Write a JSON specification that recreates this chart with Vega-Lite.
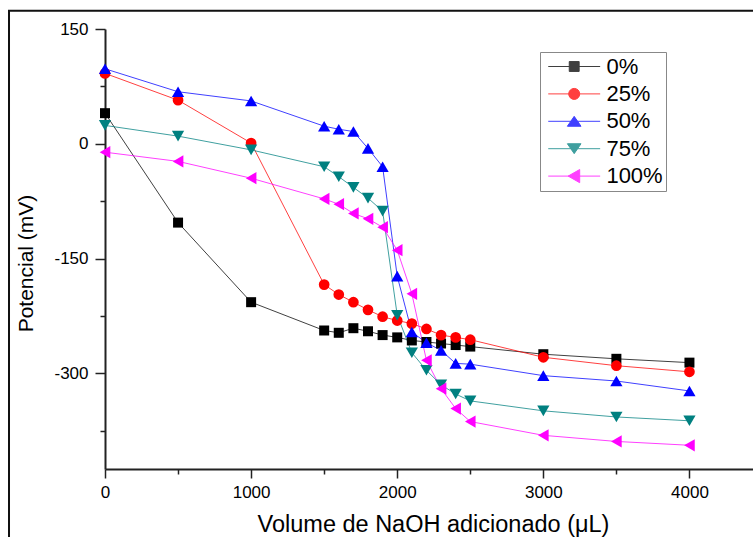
{
  "$schema": "https://vega.github.io/schema/vega-lite/v6.json",
  "width": 648,
  "height": 440,
  "autosize": {"type": "none"},
  "padding": {"left": 105, "top": 29, "right": 0, "bottom": 68},
  "background": "white",
  "config": {
    "view": {"stroke": null},
    "font": "Liberation Sans",
    "axis": {"grid": false, "labelFont": "Liberation Sans", "titleFont": "Liberation Sans"},
    "legend": {"labelFont": "Liberation Sans"}
  },
  "data": {
    "values": [
      {"x": 0, "y": 40, "s": "0%"}, {"x": 500, "y": -103, "s": "0%"}, {"x": 1000, "y": -207, "s": "0%"}, {"x": 1500, "y": -244, "s": "0%"}, {"x": 1600, "y": -247, "s": "0%"}, {"x": 1700, "y": -241, "s": "0%"}, {"x": 1800, "y": -245, "s": "0%"}, {"x": 1900, "y": -250, "s": "0%"}, {"x": 2000, "y": -253, "s": "0%"}, {"x": 2100, "y": -257, "s": "0%"}, {"x": 2200, "y": -259, "s": "0%"}, {"x": 2300, "y": -261, "s": "0%"}, {"x": 2400, "y": -263, "s": "0%"}, {"x": 2500, "y": -265, "s": "0%"}, {"x": 3000, "y": -275, "s": "0%"}, {"x": 3500, "y": -281, "s": "0%"}, {"x": 4000, "y": -286, "s": "0%"},
      {"x": 0, "y": 92, "s": "25%"}, {"x": 500, "y": 57, "s": "25%"}, {"x": 1000, "y": 1, "s": "25%"}, {"x": 1500, "y": -184, "s": "25%"}, {"x": 1600, "y": -197, "s": "25%"}, {"x": 1700, "y": -207, "s": "25%"}, {"x": 1800, "y": -217, "s": "25%"}, {"x": 1900, "y": -226, "s": "25%"}, {"x": 2000, "y": -231, "s": "25%"}, {"x": 2100, "y": -235, "s": "25%"}, {"x": 2200, "y": -242, "s": "25%"}, {"x": 2300, "y": -250, "s": "25%"}, {"x": 2400, "y": -253, "s": "25%"}, {"x": 2500, "y": -256, "s": "25%"}, {"x": 3000, "y": -279, "s": "25%"}, {"x": 3500, "y": -290, "s": "25%"}, {"x": 4000, "y": -298, "s": "25%"},
      {"x": 0, "y": 98, "s": "50%"}, {"x": 500, "y": 68, "s": "50%"}, {"x": 1000, "y": 56, "s": "50%"}, {"x": 1500, "y": 23, "s": "50%"}, {"x": 1600, "y": 19, "s": "50%"}, {"x": 1700, "y": 16, "s": "50%"}, {"x": 1800, "y": -6, "s": "50%"}, {"x": 1900, "y": -30, "s": "50%"}, {"x": 2000, "y": -173, "s": "50%"}, {"x": 2100, "y": -246, "s": "50%"}, {"x": 2200, "y": -260, "s": "50%"}, {"x": 2300, "y": -270, "s": "50%"}, {"x": 2400, "y": -287, "s": "50%"}, {"x": 2500, "y": -288, "s": "50%"}, {"x": 3000, "y": -303, "s": "50%"}, {"x": 3500, "y": -310, "s": "50%"}, {"x": 4000, "y": -323, "s": "50%"},
      {"x": 0, "y": 24, "s": "75%"}, {"x": 500, "y": 10, "s": "75%"}, {"x": 1000, "y": -8, "s": "75%"}, {"x": 1500, "y": -30, "s": "75%"}, {"x": 1600, "y": -43, "s": "75%"}, {"x": 1700, "y": -57, "s": "75%"}, {"x": 1800, "y": -71, "s": "75%"}, {"x": 1900, "y": -88, "s": "75%"}, {"x": 2000, "y": -224, "s": "75%"}, {"x": 2100, "y": -273, "s": "75%"}, {"x": 2200, "y": -296, "s": "75%"}, {"x": 2300, "y": -315, "s": "75%"}, {"x": 2400, "y": -327, "s": "75%"}, {"x": 2500, "y": -336, "s": "75%"}, {"x": 3000, "y": -349, "s": "75%"}, {"x": 3500, "y": -357, "s": "75%"}, {"x": 4000, "y": -362, "s": "75%"},
      {"x": 0, "y": -11, "s": "100%"}, {"x": 500, "y": -23, "s": "100%"}, {"x": 1000, "y": -45, "s": "100%"}, {"x": 1500, "y": -72, "s": "100%"}, {"x": 1600, "y": -79, "s": "100%"}, {"x": 1700, "y": -91, "s": "100%"}, {"x": 1800, "y": -98, "s": "100%"}, {"x": 1900, "y": -109, "s": "100%"}, {"x": 2000, "y": -139, "s": "100%"}, {"x": 2100, "y": -196, "s": "100%"}, {"x": 2200, "y": -283, "s": "100%"}, {"x": 2300, "y": -320, "s": "100%"}, {"x": 2400, "y": -346, "s": "100%"}, {"x": 2500, "y": -363, "s": "100%"}, {"x": 3000, "y": -381, "s": "100%"}, {"x": 3500, "y": -389, "s": "100%"}, {"x": 4000, "y": -394, "s": "100%"}
    ]
  },
  "layer": [
    {
      "data": {"values": [{"k": 1}]},
      "mark": {"type": "rect", "fill": null, "stroke": "#111", "strokeWidth": 2, "clip": false},
      "encoding": {
        "x": {"datum": -657, "type": "quantitative", "scale": {"domain": [0, 4435], "nice": false, "zero": false}, "axis": null},
        "x2": {"datum": 6000},
        "y": {"datum": 174, "type": "quantitative", "scale": {"domain": [-425, 150], "nice": false, "zero": false}, "axis": null},
        "y2": {"datum": -700}
      }
    },
    {
      "mark": {"type": "line", "strokeWidth": 1, "opacity": 0.75},
      "encoding": {
        "x": {
          "field": "x", "type": "quantitative",
          "scale": {"domain": [0, 4435], "nice": false, "zero": false},
          "axis": {
            "orient": "bottom", "values": [0, 1000, 2000, 3000, 4000], "labelExpr": "'' + datum.value",
            "title": "Volume de NaOH adicionado (μL)", "titleFontSize": 23.5, "titleFontWeight": "normal", "titleColor": "#000",
            "titleX": 328, "titleY": 62, "titleBaseline": "alphabetic", "titleAlign": "center",
            "tickSize": 9, "tickWidth": 1.5, "tickColor": "#222", "domainWidth": 2, "domainColor": "#222",
            "labelFontSize": 17, "labelColor": "#000", "labelPadding": 6, "labelFlush": false
          }
        },
        "y": {
          "field": "y", "type": "quantitative",
          "scale": {"domain": [-425, 150], "nice": false, "zero": false},
          "axis": {
            "orient": "left", "values": [150, 0, -150, -300], "labelExpr": "'' + datum.value",
            "title": "Potencial (mV)", "titleFontSize": 21, "titleFontWeight": "normal", "titleColor": "#000",
            "titleX": -79, "titleY": 234, "titleAlign": "center", "titleBaseline": "middle", "titleAngle": -90,
            "tickSize": 10, "tickWidth": 1.5, "tickColor": "#222", "domainWidth": 2, "domainColor": "#222",
            "labelFontSize": 17, "labelColor": "#000", "labelPadding": 7, "labelFlush": false
          }
        },
        "color": {
          "field": "s", "type": "nominal",
          "scale": {"domain": ["0%", "25%", "50%", "75%", "100%"], "range": ["#000000", "#FF0000", "#0000FF", "#008080", "#FF00FF"]},
          "legend": {
            "orient": "none", "legendX": 435, "legendY": 23, "title": null,
            "padding": 3, "rowPadding": 4.4, "strokeColor": "#888", "fillColor": "white",
            "labelFontSize": 22, "labelColor": "#000", "labelOffset": 20.7, "symbolOffset": 19.7,
            "symbolSize": 484, "symbolStrokeWidth": 1,
            "symbolType": {"expr": "datum.value === '0%' ? 'M-2.36,0L2.36,0M-0.45,-0.45L0.45,-0.45L0.45,0.45L-0.45,0.45Z' : datum.value === '25%' ? 'M-2.36,0L2.36,0M-0.5,0A0.5,0.5,0,1,1,0.5,0A0.5,0.5,0,1,1,-0.5,0Z' : datum.value === '50%' ? 'M-2.36,0L2.36,0M0,-0.45L0.62,0.45L-0.62,0.45Z' : datum.value === '75%' ? 'M-2.36,0L2.36,0M0,0.45L0.62,-0.45L-0.62,-0.45Z' : 'M-2.36,0L2.36,0M-0.55,0L0.5,-0.6L0.5,0.6Z'"},
            "symbolFillColor": {"expr": "datum.value === '0%' ? '#000000' : datum.value === '25%' ? '#FF0000' : datum.value === '50%' ? '#0000FF' : datum.value === '75%' ? '#008080' : '#FF00FF'"},
            "symbolStrokeColor": {"expr": "datum.value === '0%' ? '#000000' : datum.value === '25%' ? '#FF0000' : datum.value === '50%' ? '#0000FF' : datum.value === '75%' ? '#008080' : '#FF00FF'"}
          }
        }
      }
    },
    {
      "transform": [{"filter": "datum.s === '0%'"}],
      "mark": {"type": "point", "filled": true, "shape": "square", "color": "#000000", "size": 100, "opacity": 1, "strokeWidth": 0},
      "encoding": {
        "x": {"field": "x", "type": "quantitative", "scale": {"domain": [0, 4435], "nice": false, "zero": false}, "axis": null},
        "y": {"field": "y", "type": "quantitative", "scale": {"domain": [-425, 150], "nice": false, "zero": false}, "axis": null}
      }
    },
    {
      "transform": [{"filter": "datum.s === '25%'"}],
      "mark": {"type": "point", "filled": true, "shape": "circle", "color": "#FF0000", "size": 115, "opacity": 1, "strokeWidth": 0},
      "encoding": {
        "x": {"field": "x", "type": "quantitative", "scale": {"domain": [0, 4435], "nice": false, "zero": false}, "axis": null},
        "y": {"field": "y", "type": "quantitative", "scale": {"domain": [-425, 150], "nice": false, "zero": false}, "axis": null}
      }
    },
    {
      "transform": [{"filter": "datum.s === '50%'"}],
      "mark": {"type": "point", "filled": true, "shape": "triangle-up", "color": "#0000FF", "size": 150, "opacity": 1, "strokeWidth": 0},
      "encoding": {
        "x": {"field": "x", "type": "quantitative", "scale": {"domain": [0, 4435], "nice": false, "zero": false}, "axis": null},
        "y": {"field": "y", "type": "quantitative", "scale": {"domain": [-425, 150], "nice": false, "zero": false}, "axis": null}
      }
    },
    {
      "transform": [{"filter": "datum.s === '75%'"}],
      "mark": {"type": "point", "filled": true, "shape": "triangle-down", "color": "#008080", "size": 150, "opacity": 1, "strokeWidth": 0},
      "encoding": {
        "x": {"field": "x", "type": "quantitative", "scale": {"domain": [0, 4435], "nice": false, "zero": false}, "axis": null},
        "y": {"field": "y", "type": "quantitative", "scale": {"domain": [-425, 150], "nice": false, "zero": false}, "axis": null}
      }
    },
    {
      "transform": [{"filter": "datum.s === '100%'"}],
      "mark": {"type": "point", "filled": true, "shape": "triangle-left", "color": "#FF00FF", "size": 150, "opacity": 1, "strokeWidth": 0},
      "encoding": {
        "x": {"field": "x", "type": "quantitative", "scale": {"domain": [0, 4435], "nice": false, "zero": false}, "axis": null},
        "y": {"field": "y", "type": "quantitative", "scale": {"domain": [-425, 150], "nice": false, "zero": false}, "axis": null}
      }
    },
    {
      "mark": {"type": "point", "opacity": 0},
      "encoding": {
        "x": {"field": "x", "type": "quantitative", "scale": {"domain": [0, 4435], "nice": false, "zero": false},
          "axis": {"orient": "bottom", "values": [500, 1500, 2500, 3500], "labels": false, "domain": false, "title": null, "tickSize": 5, "tickWidth": 1.5, "tickColor": "#222"}},
        "y": {"field": "y", "type": "quantitative", "scale": {"domain": [-425, 150], "nice": false, "zero": false},
          "axis": {"orient": "left", "values": [75, -75, -225, -375], "labels": false, "domain": false, "title": null, "tickSize": 5, "tickWidth": 1.5, "tickColor": "#222"}}
      }
    }
  ],
  "resolve": {"axis": {"x": "independent", "y": "independent"}}
}
